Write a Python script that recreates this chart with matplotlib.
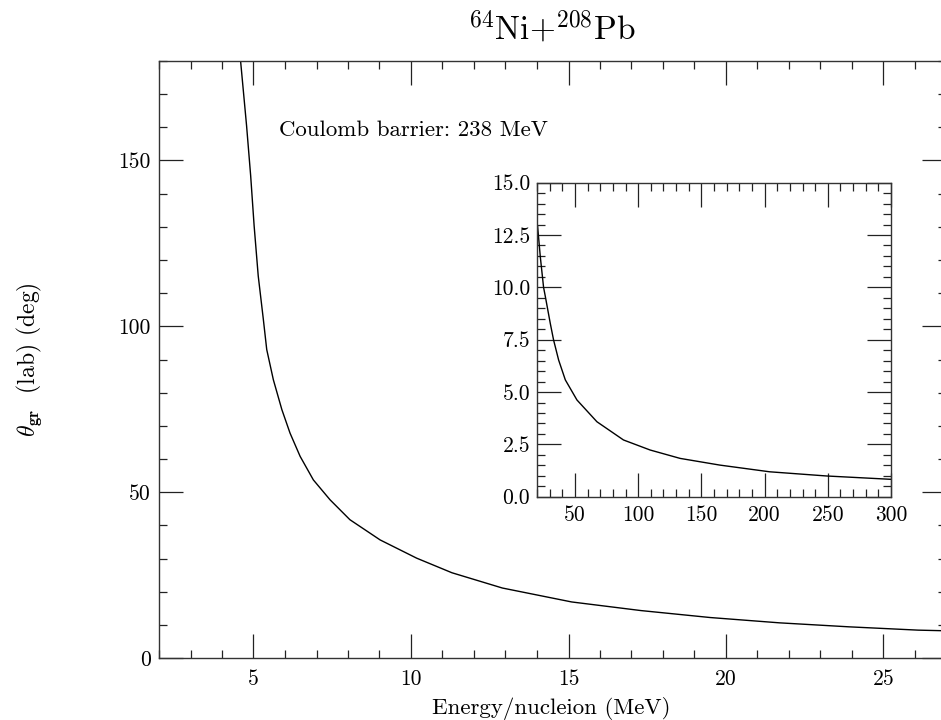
import numpy as np
import matplotlib
matplotlib.use("Agg")
import matplotlib.pyplot as plt
from matplotlib.ticker import MultipleLocator, FormatStrFormatter

# grazing angle vs energy per nucleon
energy = [4.59, 4.78, 4.91, 5.02, 5.15, 5.31, 5.42, 5.63, 5.90, 6.16, 6.48,
          6.90, 7.43, 8.06, 9.02, 10.18, 11.3, 12.9, 15.1, 17.3, 19.5, 21.7,
          23.9, 26.1, 27.0]
theta = [180, 160.5, 145.4, 130.3, 115.2, 102.3, 93.0, 83.9, 74.9, 67.8, 60.8,
         53.7, 47.7, 41.7, 35.6, 30.1, 25.7, 21.1, 16.9, 14.3, 12.2, 10.6,
         9.4, 8.4, 8.2]

# inset: higher energies
energy_in = [20.5, 22.6, 25.2, 26.6, 30.5, 33.1, 37.1, 42.4, 51.6, 67.4,
             88.4, 109.5, 133.2, 164.6, 204, 249, 300]
theta_in = [12.9, 11.47, 10.0, 9.56, 8.28, 7.49, 6.53, 5.58, 4.62, 3.58,
            2.71, 2.23, 1.83, 1.51, 1.19, 0.99, 0.83]

title = r'$^{64}$Ni+$^{208}$Pb'
note = 'Coulomb barrier: 238 MeV'
xlabel = 'Energy/nucleion (MeV)'
ylabel = r'$\theta_{\mathbf{gr}}$  (lab) (deg)'

plt.rcParams['font.family'] = ['cmr10']
plt.rcParams['mathtext.fontset'] = 'cm'
plt.rcParams['axes.unicode_minus'] = False


def style_axes(ax, fs):
    ax.tick_params(which='both', direction='in', top=True, right=True,
                   bottom=True, left=True, colors='#222222', labelcolor='black')
    ax.tick_params(which='major', length=17, width=0.9, labelsize=fs)
    ax.tick_params(which='minor', length=6, width=0.9)
    for sp in ax.spines.values():
        sp.set_linewidth(1.0)
        sp.set_color('#333333')


fig = plt.figure(figsize=(9.41, 7.2), dpi=100)

ax = fig.add_axes([159/941, 62/720, 787.5/941, 597/720])
ax.plot(energy, theta, '-', color='black', lw=1.0)
ax.set_xlim(2, 27)
ax.set_ylim(0, 180)
ax.xaxis.set_major_locator(MultipleLocator(5))
ax.xaxis.set_minor_locator(MultipleLocator(1))
ax.yaxis.set_major_locator(MultipleLocator(50))
ax.yaxis.set_minor_locator(MultipleLocator(10))
style_axes(ax, 15.5)
ax.tick_params(axis='x', which='major', pad=8)
ax.tick_params(axis='y', which='major', pad=6)
ax.text(0.152, 0.874, note, transform=ax.transAxes, fontsize=16.5,
        ha='left', va='baseline')

fig.text(551.5/941, 1 - 40/720, title, fontsize=24, ha='center', va='baseline')
fig.text(551.5/941, 6/720, xlabel, fontsize=16.5, ha='center', va='baseline')
fig.text(29/941, 0.5, ylabel, fontsize=17, rotation=90, ha='center', va='center')

axin = fig.add_axes([537/941, (720-496.7)/720, 354/941, 314/720])
axin.plot(energy_in, theta_in, '-', color='black', lw=1.0)
axin.set_xlim(20, 300)
axin.set_ylim(0, 15)
axin.xaxis.set_major_locator(MultipleLocator(50))
axin.xaxis.set_minor_locator(MultipleLocator(10))
axin.yaxis.set_major_locator(MultipleLocator(2.5))
axin.yaxis.set_minor_locator(MultipleLocator(0.5))
axin.yaxis.set_major_formatter(FormatStrFormatter('%.1f'))
style_axes(axin, 15.5)
axin.tick_params(axis='x', which='major', pad=6)
axin.tick_params(axis='y', which='major', pad=5)

fig.savefig('out.png', dpi=100)
